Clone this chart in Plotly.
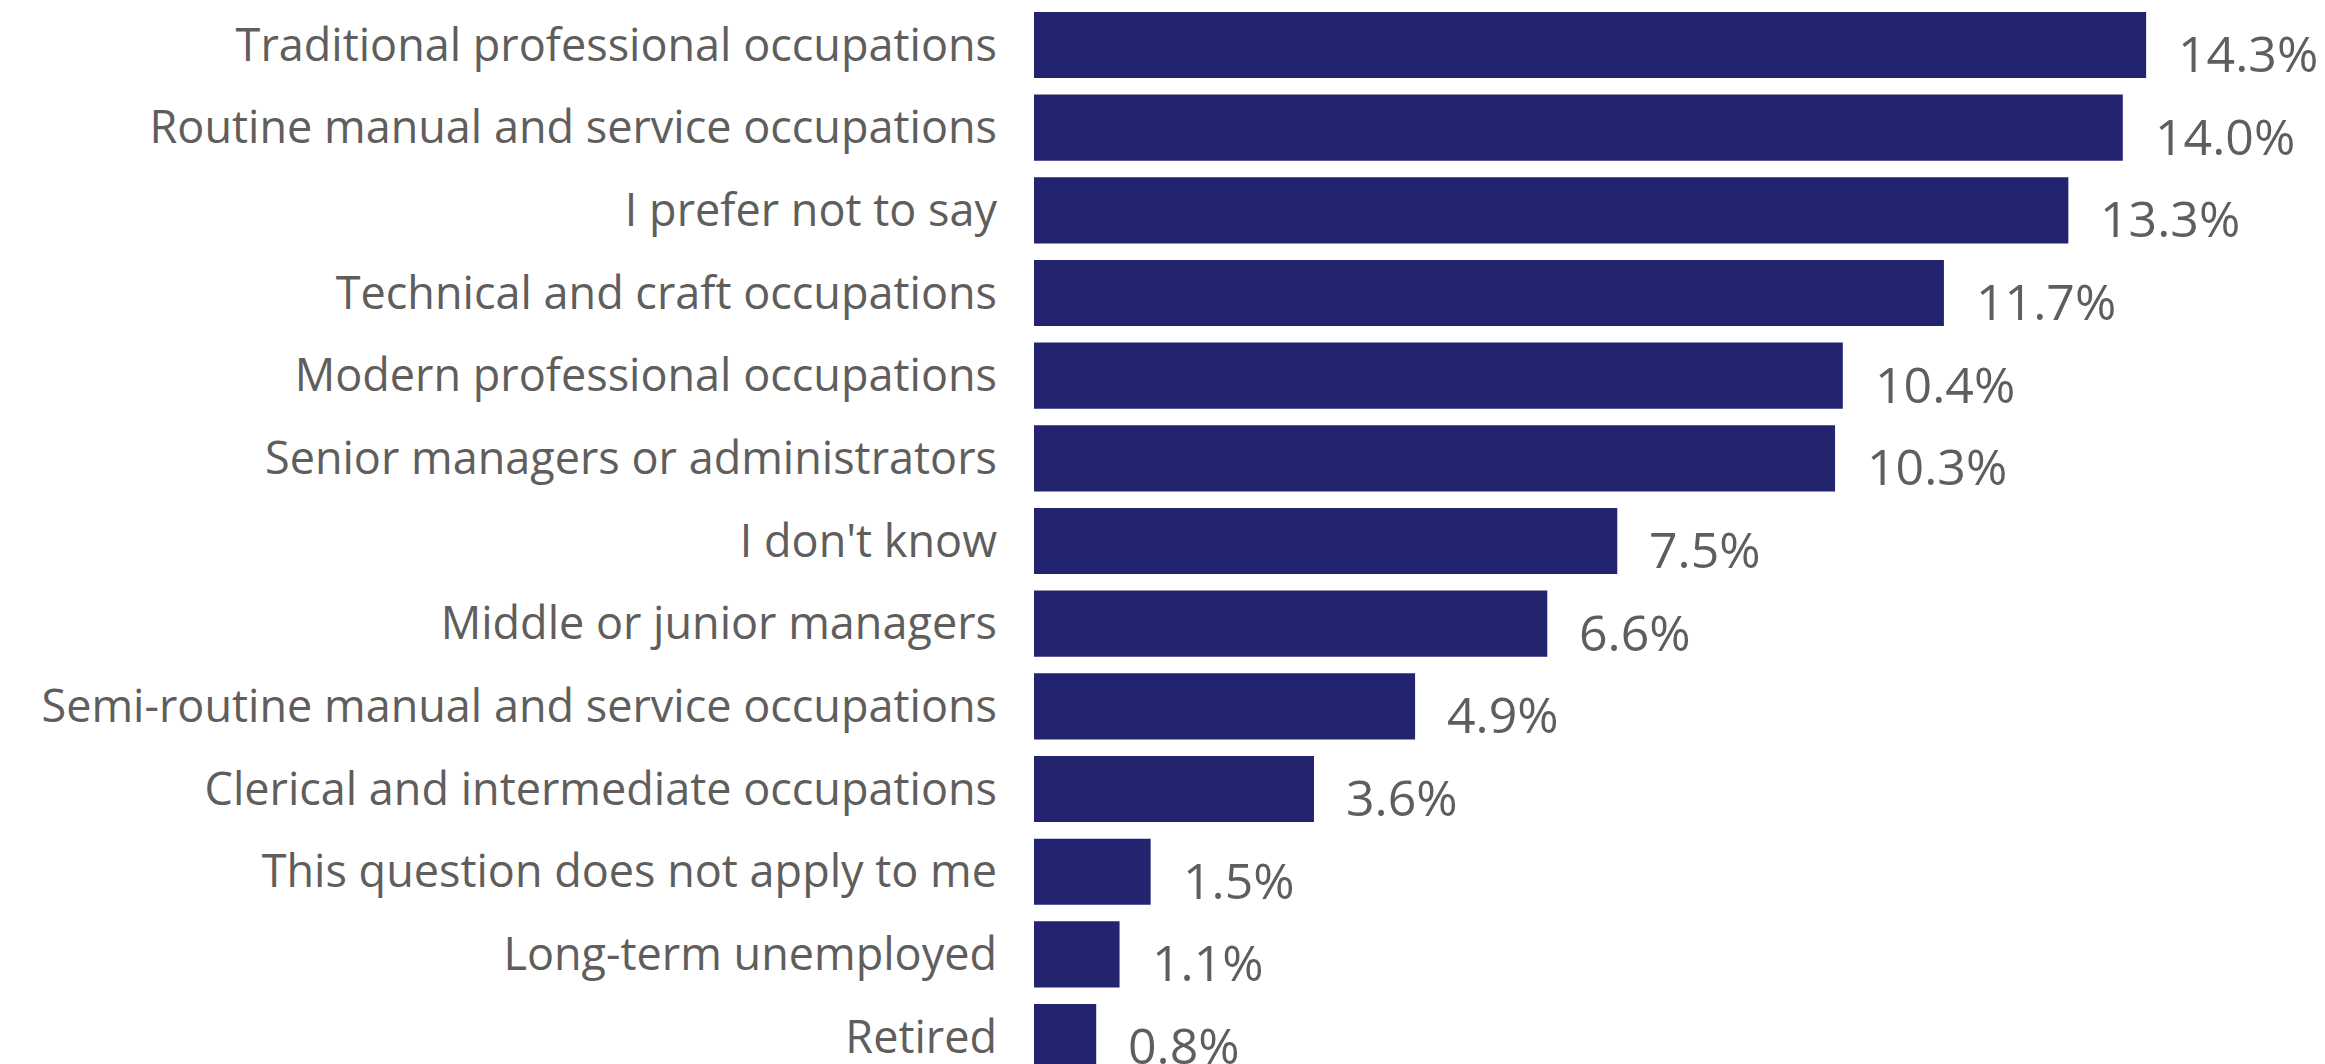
import plotly.graph_objects as go

categories = [
    "Traditional professional occupations",
    "Routine manual and service occupations",
    "I prefer not to say",
    "Technical and craft occupations",
    "Modern professional occupations",
    "Senior managers or administrators",
    "I don't know",
    "Middle or junior managers",
    "Semi-routine manual and service occupations",
    "Clerical and intermediate occupations",
    "This question does not apply to me",
    "Long-term unemployed",
    "Retired",
]
values = [14.3, 14.0, 13.3, 11.7, 10.4, 10.3, 7.5, 6.6, 4.9, 3.6, 1.5, 1.1, 0.8]
value_labels = [f"{v:.1f}%" for v in values]

FONT = "Segoe UI, Open Sans, sans-serif"
GREY = "#605E5C"
BAR = "#222470"

fig = go.Figure()
fig.add_trace(go.Bar(
    x=values,
    y=categories,
    orientation="h",
    marker=dict(color=BAR, line=dict(width=0)),
    hoverinfo="skip",
))

for v, c, t in zip(values, categories, value_labels):
    fig.add_annotation(
        x=v, y=c, xref="x", yref="y", text=t, showarrow=False,
        xanchor="left", yanchor="middle", xshift=30, yshift=-8,
        font=dict(family=FONT, size=50, color=GREY),
    )

fig.update_layout(
    width=2325, height=1064,
    margin=dict(l=1034, r=0, t=0, b=0),
    paper_bgcolor="white", plot_bgcolor="white",
    bargap=0.2,
    showlegend=False,
    xaxis=dict(range=[0, 16.6], visible=False, fixedrange=True),
    yaxis=dict(
        range=[12.326, -0.544],
        showgrid=False, zeroline=False, showline=False,
        ticks="", ticklabelstandoff=36,
        tickfont=dict(family=FONT, size=45, color=GREY),
        automargin=False,
    ),
)

fig.write_html(
    "out.html",
    config={"displayModeBar": False},
    post_script="document.body.style.margin='0';document.body.style.overflow='hidden';",
)
